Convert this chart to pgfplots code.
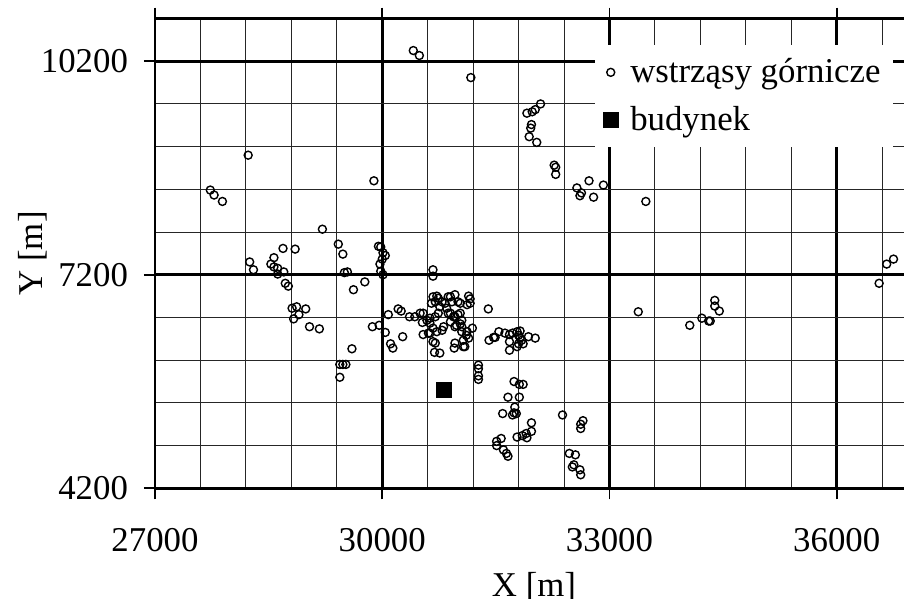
\documentclass[border=0pt]{standalone}
\usepackage{fontspec}
\setmainfont{Liberation Serif}
\usepackage{pgfplots}
\pgfplotsset{compat=1.18}
\begin{document}
\begin{tikzpicture}
\begin{axis}[
    at={(0,0)}, anchor=south west,
    scale only axis,
    width=386.3pt, height=234.9pt,
    xmin=27000, xmax=37200,
    ymin=4200, ymax=10800,
    xtick={27000,30000,33000,36000},
    ytick={4200,7200,10200},
    minor xtick={27600,28200,28800,29400,30600,31200,31800,32400,33600,34200,34800,35400,36600},
    minor ytick={4800,5400,6000,6600,7800,8400,9000,9600},
    grid=both,
    major grid style={line width=1.3pt, black},
    minor grid style={line width=0.5pt, black!85},
    axis line style={line width=1.4pt},
    tick align=outside,
    major tick length=5.5pt,
    minor tick length=0pt,
    major tick style={line width=0.9pt, black},
    scaled ticks=false,
    /pgf/number format/assume math mode=true,
    xticklabel={\pgfmathprintnumber[fixed,1000 sep={}]{\tick}},
    yticklabel={\pgfmathprintnumber[fixed,1000 sep={}]{\tick}},
    tick label style={font=\fontsize{17.4}{20}\selectfont},
    xticklabel style={yshift=-11pt},
    yticklabel style={xshift=-4.5pt},
    label style={font=\fontsize{17.4}{20}\selectfont},
    xlabel={X [m]},
    ylabel={Y [m]},
    xlabel style={at={(rel axis cs:0,0)}, xshift=189.5pt, yshift=-54.3pt, anchor=base},
    ylabel style={at={(rel axis cs:0,0.5)}, anchor=base, yshift=56pt},
    legend style={
        at={(rel axis cs:0.5693,0.945)}, anchor=north west,
        draw=none, fill=white,
        font=\fontsize{17.4}{20}\selectfont,
        inner xsep=4pt, inner ysep=5pt,
        row sep=6pt,
        /tikz/every odd column/.append style={column sep=4pt},
    },
    legend cell align=left,
]

% wstrzasy gornicze (X, Y w metrach)
\addplot[only marks, mark=o, mark size=2pt, mark options={line width=0.7pt, black}]
table {
x y
28230 8880
27730 8390
27780 8320
27890 8230
29890 8520
29210 7840
29420 7630
29480 7490
28690 7570
28850 7560
28250 7380
28300 7270
28570 7440
28530 7350
28570 7310
28620 7290
28620 7210
28700 7240
28720 7080
28760 7040
29500 7230
29540 7240
29620 6990
29770 7100
29950 7600
29980 7590
30010 7510
30040 7470
30000 7420
29970 7350
29980 7250
30010 7200
30410 10350
30490 10280
31170 9970
32090 9600
32020 9520
31980 9490
31910 9470
31970 9310
31960 9260
31940 9140
32040 9060
32270 8740
32290 8710
32290 8610
32570 8420
32630 8350
32610 8310
32790 8290
32730 8520
32920 8460
33480 8230
36750 7420
36660 7350
36560 7080
33380 6680
34060 6490
34220 6590
34310 6550
34330 6550
34390 6840
34390 6760
34450 6690
28810 6730
28870 6750
28990 6720
28900 6640
28830 6580
29040 6470
29170 6440
29440 5760
29440 5940
29480 5940
29520 5940
29600 6160
29870 6470
29960 6490
30040 6390
30080 6640
30210 6720
30250 6690
30270 6330
30110 6230
30140 6170
30360 6610
30430 6610
30670 7270
30670 7180
30500 6660
30540 6660
30590 6560
30530 6530
30630 6590
30630 6520
30670 6450
30630 6380
30720 6400
30540 6360
30610 6380
30790 6420
30810 6470
30670 6260
30700 6240
30690 6110
30760 6100
30670 6890
30720 6900
30740 6870
30700 6820
30650 6800
30790 6820
30830 6800
30760 6750
30850 6730
30870 6890
30900 6890
30960 6920
30920 6820
31000 6820
31140 6900
31160 6860
31160 6800
31120 6780
31030 6800
31030 6660
30960 6610
30870 6660
30740 6660
30700 6610
30900 6660
30940 6610
31000 6640
31050 6560
31030 6510
30980 6490
30960 6470
30900 6540
31050 6470
31050 6400
30960 6240
31070 6190
30950 6170
31110 6350
31120 6400
31070 6280
31140 6310
31090 6190
31190 6450
31400 6720
31410 6280
31470 6320
31540 6400
31620 6380
31680 6360
31720 6380
31780 6400
31820 6410
31800 6350
31820 6310
31800 6230
31860 6230
31930 6330
32020 6310
31680 6260
31680 6140
31780 6190
31840 6280
31490 6320
31270 5930
31270 5880
31270 5780
31270 5730
31740 5700
31810 5660
31860 5660
31660 5480
31810 5480
31750 5340
31740 5260
31770 5250
31590 5250
31720 5230
31970 5120
31970 5000
31900 4970
31850 4940
31780 4920
31910 4910
31570 4900
31510 4860
31510 4800
31600 4740
31640 4690
31660 4650
32380 5230
32620 5100
32650 5150
32620 5040
32470 4690
32550 4670
32530 4530
32510 4500
32610 4460
32620 4390
};
\addlegendentry{wstrząsy górnicze}

% budynek
\addplot[only marks, mark=square*, mark size=3.75pt, mark options={black}]
coordinates {(30820,5580)};
\addlegendentry{budynek}

\end{axis}
\pgfresetboundingbox
\useasboundingbox (-77.5pt,-55.35pt) rectangle (374.5pt,244.15pt);
\end{tikzpicture}
\end{document}
